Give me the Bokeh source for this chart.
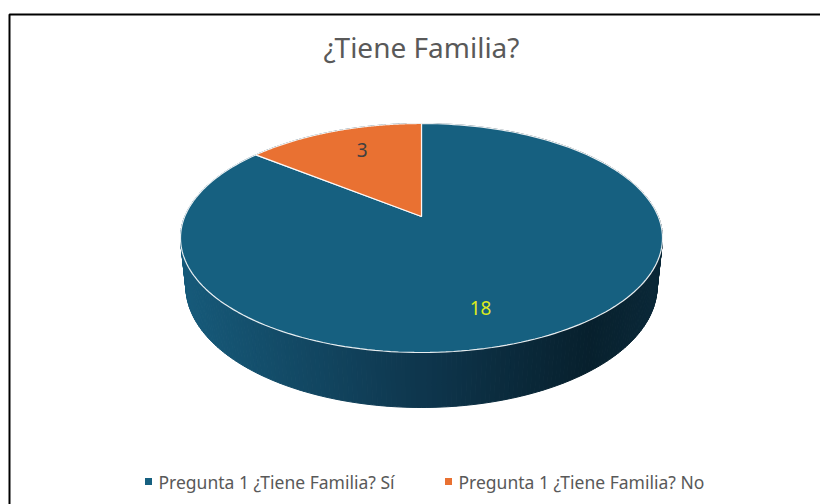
import numpy as np
from bokeh.plotting import figure
from bokeh.models import Range1d
from bokeh.core.properties import value
from bokeh.embed import file_html
from bokeh.resources import INLINE

# ---- data ----
title_text = "¿Tiene Familia?"
categories = ["Pregunta 1 ¿Tiene Familia? Sí", "Pregunta 1 ¿Tiene Familia? No"]
values = [18, 3]
colors = ["#166080", "#E97132"]
label_colors = ["#DCEB1E", "#404040"]

# ---- layout / style ----
W, H = 820, 504
OFF = 8
theta = np.radians(27.3)      # elevation of the view
D = 4.73                       # camera distance (disc radius = 1)
box_x = (172 + OFF, 654 + OFF)  # projected top rim, horizontal extent
box_y = (115 + OFF, 344 + OFF)  # projected top rim, vertical extent
side_bottom = 399 + OFF          # lowest point of the side wall
label_r = [0.75, 0.73]
label_nudge = [9.0, 3.0]       # degrees

s, c = np.sin(theta), np.cos(theta)


def proj(X, Z, h):
    depth = D - h * s - Z * c
    return X / depth, (Z * s - h * c) / depth, depth


phi_all = np.radians(np.linspace(0, 360, 721))
rx_, ry_, _ = proj(np.sin(phi_all), -np.cos(phi_all), 0.0)
kx = (box_x[1] - box_x[0]) / (rx_.max() - rx_.min())
ky = (box_y[1] - box_y[0]) / (ry_.max() - ry_.min())
ox = box_x[0] - rx_.min() * kx
oy = box_y[0] - ry_.min() * ky


def to_px(X, Z, h):
    xs, ys, dp = proj(X, Z, h)
    return xs * kx + ox, ys * ky + oy, dp


# find thickness so the bottom of the side meets side_bottom
lo, hi = 0.0, 1.0
for _ in range(60):
    mid = (lo + hi) / 2
    _, yb, _ = to_px(np.sin(phi_all), -np.cos(phi_all), -mid)
    if yb.max() < side_bottom:
        lo = mid
    else:
        hi = mid
thick = (lo + hi) / 2

p = figure(width=W, height=H, output_backend="svg", toolbar_location=None,
           x_range=Range1d(0, W), y_range=Range1d(H, 0), min_border=0)
p.axis.visible = False
p.grid.visible = False
p.outline_line_color = None
p.background_fill_color = "white"
p.border_fill_color = "white"

# chart-area border (cropped)
p.line(x=[OFF + 1, OFF + 1, W], y=[H, OFF + 6, OFF + 6], line_color="black", line_width=2)

# ---- side wall (gradient strips) ----
stops_t = [0.0, 0.5, 0.85, 1.0]
stops_c = [(0x16, 0x5A, 0x7A), (0x0E, 0x36, 0x4D), (0x07, 0x20, 0x2D), (0x0A, 0x28, 0x38)]


def grad(t):
    t = min(max(t, 0.0), 1.0)
    rgb = [np.interp(t, stops_t, [sc[i] for sc in stops_c]) for i in range(3)]
    return "#%02x%02x%02x" % tuple(int(round(v)) for v in rgb)


N = 360
ph = np.radians(np.linspace(0, 360, N + 1))
quads_x, quads_y, quads_c, quads_d = [], [], [], []
for i in range(N):
    a0, a1 = ph[i], ph[i + 1]
    X0, Z0, X1, Z1 = np.sin(a0), -np.cos(a0), np.sin(a1), -np.cos(a1)
    tx0, ty0, d0 = to_px(X0, Z0, 0.0)
    tx1, ty1, d1 = to_px(X1, Z1, 0.0)
    bx0, by0, _ = to_px(X0, Z0, -thick)
    bx1, by1, _ = to_px(X1, Z1, -thick)
    quads_x.append([tx0, tx1, bx1, bx0])
    quads_y.append([ty0, ty1, by1, by0])
    t = ((tx0 + tx1) / 2 - box_x[0]) / (box_x[1] - box_x[0])
    quads_c.append(grad(t))
    quads_d.append((d0 + d1) / 2)
order = np.argsort(quads_d)[::-1]
p.patches(xs=[quads_x[i] for i in order], ys=[quads_y[i] for i in order],
          fill_color=[quads_c[i] for i in order], line_color=[quads_c[i] for i in order],
          line_width=1)

# ---- top face wedges ----
total = float(sum(values))
start = 0.0
wx, wy, lx, ly = [], [], [], []
for k, v in enumerate(values):
    span = 360.0 * v / total
    a = np.radians(np.linspace(start, start + span, 200))
    px, py, _ = to_px(np.sin(a), -np.cos(a), 0.0)
    cx0, cy0, _ = to_px(0.0, 0.0, 0.0)
    wx.append(np.concatenate([[cx0], px]))
    wy.append(np.concatenate([[cy0], py]))
    am = np.radians(start + span / 2 + label_nudge[k])
    qx, qy, _ = to_px(label_r[k] * np.sin(am), -label_r[k] * np.cos(am), 0.0)
    lx.append(qx)
    ly.append(qy)
    start += span

p.patches(xs=wx, ys=wy, fill_color=colors, line_color="white", line_width=1.2,
          line_alpha=0.9)

p.text(x=lx, y=ly, text=[str(v) for v in values], text_color=label_colors,
       text_font=value("Noto Sans"), text_font_size="19px",
       text_align="center", text_baseline="middle")

# ---- title ----
p.text(x=[421], y=[OFF + 38], text=[title_text], text_color="#595959",
       text_font=value("Noto Sans"), text_font_size="28px",
       text_align="center", text_baseline="middle")

# ---- legend ----
leg_sq_x = [148, 448]
leg_y = 481
p.rect(x=leg_sq_x, y=[leg_y] * 2, width=7, height=7, fill_color=colors, line_color=None)
p.text(x=[x + 10 for x in leg_sq_x], y=[leg_y] * 2, text=categories, text_color="#595959",
       text_font=value("Noto Sans"), text_font_size="17.5px",
       text_align="left", text_baseline="middle")

open("out.html", "w").write(file_html(p, INLINE))
